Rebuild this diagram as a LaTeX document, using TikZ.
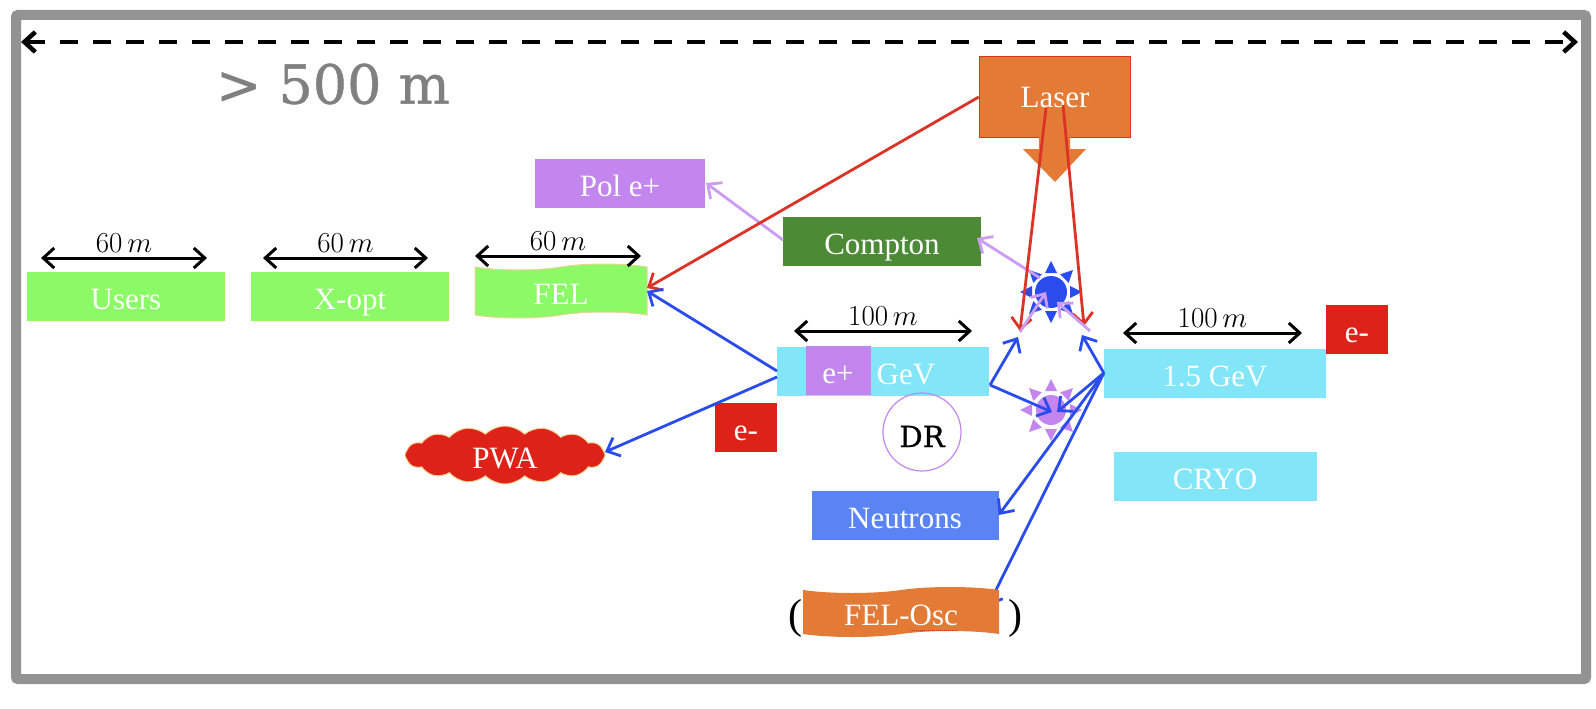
\documentclass[tikz,border=0pt]{standalone}
\usepackage{fix-cm}
\usepackage{fontspec}
\setmainfont{Liberation Serif}
\newfontfamily\slabfont[FakeBold=0.8]{DejaVu Serif}
\usepackage{tikz}
\usetikzlibrary{arrows.meta, shapes.symbols}

\definecolor{framegray}{HTML}{939393}
\definecolor{titlegray}{HTML}{808080}
\definecolor{felgreen}{HTML}{8BFA66}
\definecolor{linacblue}{HTML}{82E5F8}
\definecolor{polpurple}{HTML}{C386EE}
\definecolor{comptongreen}{HTML}{4C8A36}
\definecolor{neutronblue}{HTML}{5A84F3}
\definecolor{laserorange}{HTML}{E37A35}
\definecolor{boxred}{HTML}{DE2219}
\definecolor{beamred}{HTML}{DC3327}
\definecolor{beamblue}{HTML}{2B4CEC}
\definecolor{beampurple}{HTML}{CB9CF1}
\definecolor{edgetan}{HTML}{EBD48F}

\tikzset{
  >={Straight Barb[length=11pt,width=20pt]},
  lab/.style={text=white, font=\fontsize{31}{33}\selectfont, inner sep=0pt, text height=26pt, text depth=0pt},
  box/.style={lab, minimum width=#1, minimum height=49pt},
  wavy/.style={lab, shape=tape, tape bend top=in and out, tape bend bottom=in and out,
    tape bend height=6pt, minimum width=#1},
  dim/.style={<->, line width=3pt, black},
  dimlab/.style={above, inner sep=4pt, font=\fontsize{29}{31}\selectfont},
  beam/.style={->, line width=2.8pt},
}

\newcommand{\burst}[2]{
  \foreach \a in {0,45,...,315} {
    \begin{scope}[shift={(#1)}, rotate=\a]
      \fill[#2] (31,0) -- (19,-6) -- (19,6) -- cycle;
    \end{scope}
  }
}

\begin{document}
\begin{tikzpicture}[x=1pt, y=-1pt]
\useasboundingbox (0,0) rectangle (1596,709);
\fill[white] (0,0) rectangle (1596,709);
\draw[line width=10pt, framegray, rounded corners=2pt] (16,15) rectangle (1586,679);

% span of the whole site
\coordinate (spanl) at (21,42);
\coordinate (spanr) at (1578,42);
\draw[<->, line width=4.5pt, black, dash pattern=on 18pt off 15pt] (spanl) -- (spanr);
\node[text=titlegray, font=\slabfont\fontsize{54}{58}\selectfont, inner sep=0pt] (span) at (333,84) {> 500 m};

% sections of the line
\node[box=198pt, fill=felgreen] (users) at (126,296) {Users};
\node[box=198pt, fill=felgreen] (xopt) at (350,296) {X-opt};
\node[wavy=172pt, minimum height=54pt, fill=felgreen, draw=edgetan, line width=1pt] (fel) at (561,291) {FEL};
\node[box=170pt, fill=polpurple] (pol) at (620,183) {Pol e+};
\node[box=198pt, fill=comptongreen] (compton) at (882,241) {Compton};
\node[box=212pt, fill=linacblue] (linacl) at (883,371) {};
\node[box=65pt, fill=polpurple] (posi) at (838,370) {e+};
\node[lab] (gevl) at (906,371) {GeV};
\node[box=222pt, fill=linacblue] (linacr) at (1215,373) {1.5 GeV};
\node[box=62pt, fill=boxred] (elecr) at (1357,329) {e-};
\node[box=62pt, fill=boxred] (elecl) at (746,427) {e-};
\node[box=203pt, fill=linacblue] (cryo) at (1215,476) {CRYO};
\node[box=187pt, fill=neutronblue] (neutrons) at (905,515) {Neutrons};
\node[circle, draw=polpurple, line width=1.2pt, minimum size=78pt, inner sep=0pt, text height=30pt, text depth=0pt,
  font=\slabfont\fontsize{29}{31}\selectfont] (dr) at (922,432) {DR};
\node[shape=cloud, cloud puffs=16, cloud puff arc=90, aspect=3.5, fill=boxred, draw=edgetan,
  line width=1pt, lab, minimum width=200pt, minimum height=58pt] (pwa) at (505,455) {PWA};

% laser with its big arrow
\node[lab, text height=20pt, fill=laserorange, draw=beamred, line width=1.5pt, minimum width=151pt, minimum height=81pt] (laser) at (1055,97) {Laser};
\fill[laserorange] (1039,136) -- (1070,136) -- (1070,149) -- (1086,149) -- (1055,182) -- (1023,149) -- (1039,149) -- cycle;

% interaction points
\node[circle, fill=beamblue, minimum size=32pt, inner sep=0pt] (sunb) at (1051,292) {};
\burst{sunb}{beamblue}
\node[circle, fill=polpurple, minimum size=30pt, inner sep=0pt] (sunp) at (1051,410) {};
\burst{sunp}{polpurple}

% free ends of the beams
\coordinate (lasl) at (1046,108);
\coordinate (lasr) at (1063,105);
\coordinate (redl) at (1020,331);
\coordinate (redr) at (1084,326);
\coordinate (purl) at (1020,332);
\coordinate (purr) at (1090,331);
\coordinate (tipl) at (1046,292);
\coordinate (tipr) at (1057,302);
\coordinate (purc) at (1040,278);
\coordinate (split) at (990,385);
\coordinate (bluel) at (1018,337);
\coordinate (bluer) at (1082,335);
\coordinate (tipa) at (1052,412);
\coordinate (tipb) at (1057,412);
\coordinate (osc) at (988,606);
\coordinate (felto) at (647,291);
\coordinate (feltr) at (647,288);
\coordinate (linup) at (777,371);
\coordinate (lindn) at (777,377);
\coordinate (comptl) at (783,240);
\coordinate (comptr) at (977,238);
\coordinate (polr) at (706,183);
\coordinate (pwar) at (605,452);

\draw[beam, beampurple] (comptl) -- (polr);
\draw[beam, beampurple] (purc) -- (comptr);
\draw[beam, beamred] (laser.west) -- (feltr);
\draw[beam, beamred] (lasl) -- (redl);
\draw[beam, beamred] (lasr) -- (redr);
\draw[beam, beampurple] (purl) -- (tipl);
\draw[beam, beampurple] (purr) -- (tipr);
\draw[beam, beamblue] (split) -- (bluel);
\draw[beam, beamblue] (linacr.west) -- (bluer);
\draw[beam, beamblue] (split) -- (tipa);
\draw[beam, beamblue] (linacr.west) -- (tipb);
\draw[beam, beamblue] (linacr.west) -- (neutrons.east);
\draw[beam, beamblue] (linacr.west) -- (osc);
\draw[beam, beamblue] (linup) -- (felto);
\draw[beam, beamblue] (lindn) -- (pwar);

% FEL-Osc sits over the end of its beam
\node[wavy=196pt, minimum height=50pt, fill=laserorange] (felosc) at (901,612) {FEL-Osc};
\coordinate (spella) at (910,630);
\coordinate (spellb) at (958,630);
\draw[boxred, line width=1pt, densely dotted] (spella) -- (spellb);
\node[font=\fontsize{42}{46}\selectfont, inner sep=0pt] (parl) at (795,618) {(};
\node[font=\fontsize{42}{46}\selectfont, inner sep=0pt] (parr) at (1015,618) {)};

% lengths
\coordinate (da) at (41,258);
\coordinate (db) at (207,258);
\coordinate (dc) at (263,258);
\coordinate (dd) at (428,258);
\coordinate (de) at (475,256);
\coordinate (df) at (641,256);
\coordinate (dg) at (794,331);
\coordinate (dh) at (972,331);
\coordinate (di) at (1123,333);
\coordinate (dj) at (1302,333);
\draw[dim] (da) -- (db) node[dimlab, midway] (lenusers) {$60\,m$};
\draw[dim] (dc) -- (dd) node[dimlab, midway] (lenxopt) {$60\,m$};
\draw[dim] (de) -- (df) node[dimlab, midway] (lenfel) {$60\,m$};
\draw[dim] (dg) -- (dh) node[dimlab, midway] (lenl) {$100\,m$};
\draw[dim] (di) -- (dj) node[dimlab, midway] (lenr) {$100\,m$};
\end{tikzpicture}
\end{document}
